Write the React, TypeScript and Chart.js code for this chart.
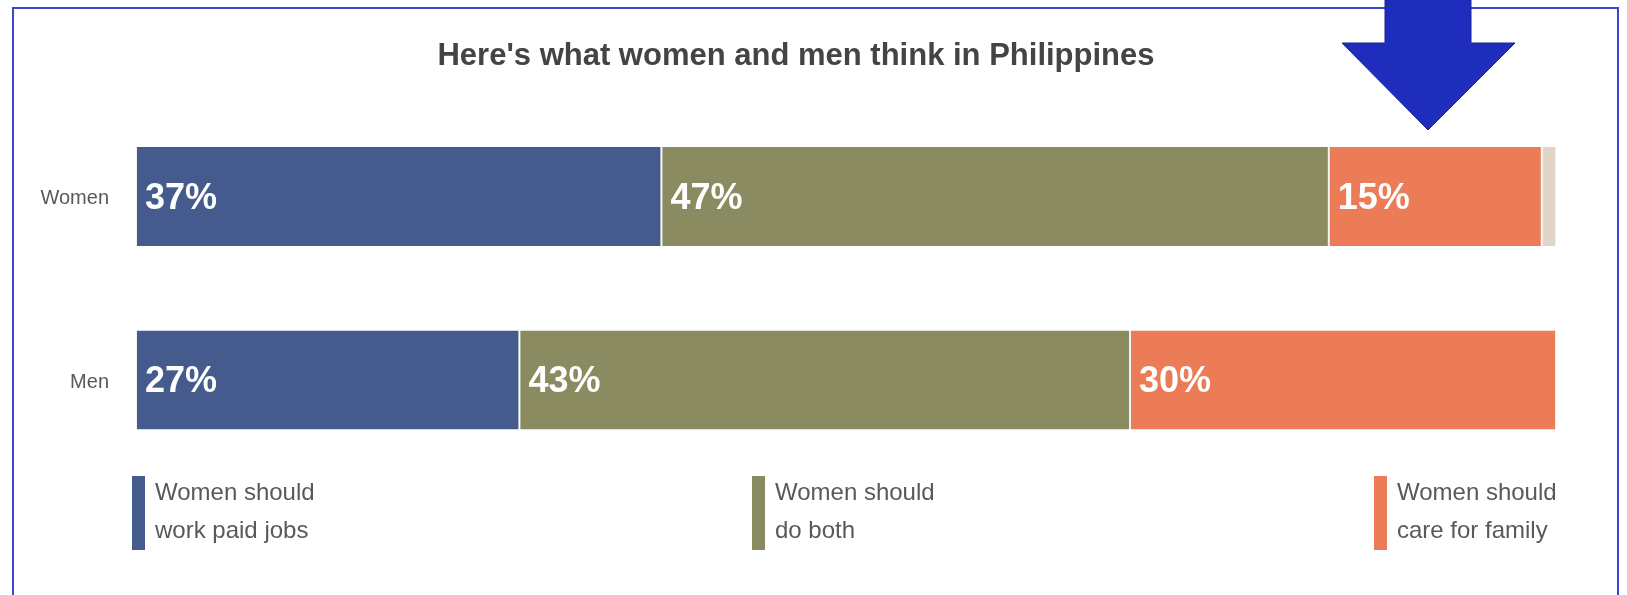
import React, { useEffect, useRef } from "react";
import { Chart, registerables } from "chart.js";

Chart.register(...registerables);

const TITLE = "Here's what women and men think in Philippines";
const categories = ["Women", "Men"];
const seriesNames = [
  "Women should work paid jobs",
  "Women should do both",
  "Women should care for family",
  "Other",
];
const paidJobs = [37, 27];
const doBoth = [47, 43];
const careFamily = [15, 30];
const other = [1, 0];
const legendLines = [
  ["Women should", "work paid jobs"],
  ["Women should", "do both"],
  ["Women should", "care for family"],
];
const COLORS = ["#455B8D", "#8B8B61", "#EC7B58", "#E2D4C7"];
const FONT = "'Liberation Sans', Arial, Helvetica, sans-serif";

const labelPlugin = {
  id: "segLabels",
  afterDatasetsDraw(chart: any) {
    const ctx = chart.ctx;
    ctx.save();
    // title
    ctx.font = `bold 31px ${FONT}`;
    ctx.fillStyle = "#444444";
    ctx.textAlign = "center";
    ctx.textBaseline = "alphabetic";
    ctx.fillText(TITLE, 796, 65);
    // segment labels
    ctx.font = `bold 36px ${FONT}`;
    ctx.fillStyle = "#ffffff";
    ctx.textAlign = "left";
    for (let d = 0; d < 3; d++) {
      const meta = chart.getDatasetMeta(d);
      const data = chart.data.datasets[d].data as number[];
      meta.data.forEach((el: any, i: number) => {
        const v = data[i];
        if (v < 5) return;
        const start = Math.min(el.x, el.base);
        ctx.fillText(`${v}%`, start + 9, el.y + 12);
      });
    }
    ctx.restore();
  },
};

export default function App() {
  const ref = useRef<HTMLCanvasElement | null>(null);
  useEffect(() => {
    if (!ref.current) return;
    const series = [paidJobs, doBoth, careFamily, other];
    const chart = new Chart(ref.current, {
      type: "bar",
      data: {
        labels: categories,
        datasets: series.map((s, k) => ({
          label: seriesNames[k],
          data: s,
          backgroundColor: COLORS[k],
          borderColor: "rgba(240,240,240,0.9)",
          borderWidth: { left: 1, right: 1, top: 0, bottom: 0 },
          borderSkipped: false,
          categoryPercentage: 1,
          barPercentage: 0.54,
        })),
      },
      options: {
        indexAxis: "y",
        responsive: false,
        maintainAspectRatio: false,
        animation: false,
        layout: { padding: { left: 0, right: 71, top: 104.75, bottom: 123.25 } },
        plugins: {
          legend: { display: false },
          title: { display: false },
          tooltip: { enabled: false },
        },
        scales: {
          x: { stacked: true, min: 0, max: 100, display: false },
          y: {
            stacked: true,
            grid: { display: false, drawTicks: false },
            border: { display: false },
            ticks: {
              padding: 27,
              labelOffset: 2,
              color: "#595959",
              font: { family: FONT, size: 20 },
            },
            afterFit: (scale: any) => {
              scale.width = 136;
            },
          },
        },
      } as any,
      plugins: [labelPlugin],
    });
    return () => chart.destroy();
  }, []);

  const legendX = [132, 752, 1374];

  return (
    <div style={{ position: "absolute", left: 0, top: 0, width: 1627, height: 595, overflow: "hidden", background: "#fff" }}>
      <div
        style={{
          position: "absolute",
          left: 12,
          top: 7,
          width: 1607,
          height: 640,
          border: "2px solid #3b45d6",
          boxSizing: "border-box",
        }}
      />
      <canvas ref={ref} width={1627} height={595} style={{ position: "absolute", left: 0, top: 0 }} />
      {legendLines.map((lines, k) => (
        <div key={k}>
          <div
            style={{
              position: "absolute",
              left: legendX[k],
              top: 476,
              width: 13,
              height: 74,
              background: COLORS[k],
            }}
          />
          <div
            style={{
              position: "absolute",
              left: legendX[k] + 23,
              top: 473,
              fontFamily: FONT,
              fontSize: 24,
              lineHeight: "38px",
              color: "#595959",
              whiteSpace: "nowrap",
            }}
          >
            {lines.map((t, j) => (
              <div key={j}>{t}</div>
            ))}
          </div>
        </div>
      ))}
      <svg width={1627} height={595} style={{ position: "absolute", left: 0, top: 0 }}>
        <polygon
          points="1385,-5 1471,-5 1471,43 1515,43 1428,130 1342,43 1385,43"
          fill="#1f2dbd"
          stroke="#1a2590"
          strokeWidth={1}
        />
      </svg>
    </div>
  );
}
